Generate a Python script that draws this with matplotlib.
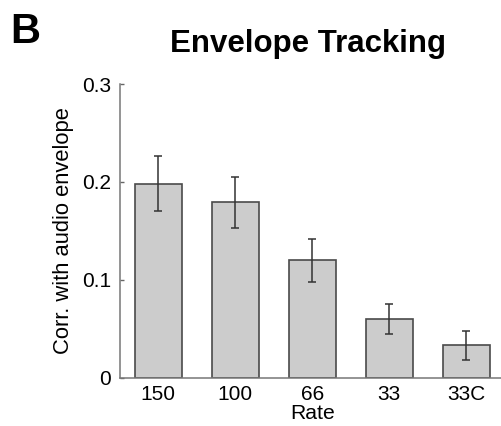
import numpy as np
import matplotlib.pyplot as plt

plt.rcParams['font.family'] = ['Liberation Sans', 'DejaVu Sans']

rates = ['150', '100', '66', '33', '33C']
corr = [0.198, 0.179, 0.120, 0.060, 0.033]
sem = [0.028, 0.026, 0.022, 0.015, 0.0147]

fig = plt.figure(figsize=(5.02, 4.26), dpi=100)
ax = fig.add_axes([0.2384, 0.1134, 0.767, 0.6894])

x = np.arange(len(rates))
ax.bar(x, corr, width=0.61, color='#cccccc', edgecolor='#4a4a4a', linewidth=1.2)
ax.errorbar(x, corr, yerr=sem, fmt='none', ecolor='#333333', elinewidth=1.1,
            capsize=3, capthick=1.1)

ax.set_xlim(-0.5, 4.5)
ax.set_ylim(0, 0.3)
ax.set_yticks([0, 0.1, 0.2, 0.3])
ax.set_yticklabels(['0', '0.1', '0.2', '0.3'])
ax.set_xticks(x)
ax.set_xticklabels(rates)
ax.tick_params(axis='y', direction='in', length=3, width=1, color='#666666',
               labelsize=15, pad=6)
ax.tick_params(axis='x', length=0, labelsize=15, pad=5.5)

for s in ['top', 'right']:
    ax.spines[s].set_visible(False)
for s in ['left', 'bottom']:
    ax.spines[s].set_color('#777777')
    ax.spines[s].set_linewidth(1.1)

ax.set_xlabel('Rate', fontsize=15.2, labelpad=0)
ax.set_ylabel('Corr. with audio envelope', fontsize=15.8, labelpad=6)

fig.text(0.613, 0.897, 'Envelope Tracking', fontsize=22.5, fontweight='bold',
         ha='center', va='center')
fig.text(0.02, 0.925, 'B', fontsize=30, fontweight='bold', ha='left', va='center')

fig.savefig('out.png', dpi=100)
